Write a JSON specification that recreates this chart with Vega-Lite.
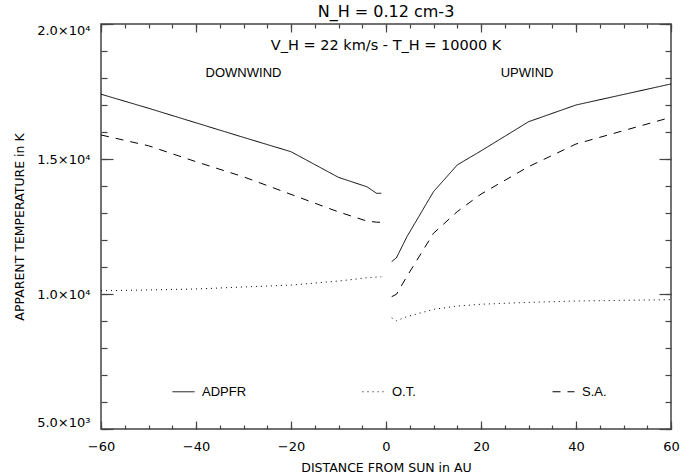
{
  "$schema": "https://vega.github.io/schema/vega-lite/v6.json",
  "width": 570,
  "height": 405,
  "autosize": {"type": "none"},
  "padding": {"left": 101, "top": 24, "right": 25, "bottom": 47},
  "background": "white",
  "title": {"text": "N_H = 0.12 cm-3", "fontSize": 16, "fontWeight": "normal", "font": "DejaVu Sans", "offset": 3, "color": "black"},
  "config": {
    "view": {"stroke": "#444", "strokeWidth": 1.5},
    "axis": {"grid": false, "domain": false, "labelFont": "DejaVu Sans", "titleFont": "DejaVu Sans", "labelFontSize": 13, "titleFontSize": 12.5, "titleFontWeight": "normal", "labelColor": "black", "titleColor": "black", "tickColor": "#444", "tickWidth": 1.2},
    "legend": {"labelFont": "Liberation Sans", "labelFontSize": 13, "labelColor": "black"},
    "text": {"font": "Liberation Sans", "fontSize": 13, "color": "black"}
  },
  "datasets": {
    "curves": [
      {"s": "ADPFR", "b": "down", "x": -60, "T": 17400},
      {"s": "ADPFR", "b": "down", "x": -50, "T": 16880},
      {"s": "ADPFR", "b": "down", "x": -40, "T": 16340},
      {"s": "ADPFR", "b": "down", "x": -30, "T": 15800},
      {"s": "ADPFR", "b": "down", "x": -20, "T": 15270},
      {"s": "ADPFR", "b": "down", "x": -10, "T": 14320},
      {"s": "ADPFR", "b": "down", "x": -4, "T": 13970},
      {"s": "ADPFR", "b": "down", "x": -2, "T": 13730},
      {"s": "ADPFR", "b": "down", "x": -1, "T": 13730},
      {"s": "ADPFR", "b": "up", "x": 1.2, "T": 11200},
      {"s": "ADPFR", "b": "up", "x": 2.2, "T": 11340},
      {"s": "ADPFR", "b": "up", "x": 4.4, "T": 12120},
      {"s": "ADPFR", "b": "up", "x": 10, "T": 13790},
      {"s": "ADPFR", "b": "up", "x": 15, "T": 14780},
      {"s": "ADPFR", "b": "up", "x": 20, "T": 15300},
      {"s": "ADPFR", "b": "up", "x": 30, "T": 16380},
      {"s": "ADPFR", "b": "up", "x": 40, "T": 17000},
      {"s": "ADPFR", "b": "up", "x": 60, "T": 17780},
      {"s": "O.T.", "b": "down", "x": -60, "T": 10120},
      {"s": "O.T.", "b": "down", "x": -50, "T": 10150},
      {"s": "O.T.", "b": "down", "x": -40, "T": 10185},
      {"s": "O.T.", "b": "down", "x": -30, "T": 10260},
      {"s": "O.T.", "b": "down", "x": -20, "T": 10330},
      {"s": "O.T.", "b": "down", "x": -10, "T": 10480},
      {"s": "O.T.", "b": "down", "x": -4, "T": 10600},
      {"s": "O.T.", "b": "down", "x": -1, "T": 10640},
      {"s": "O.T.", "b": "up", "x": 1.2, "T": 9120},
      {"s": "O.T.", "b": "up", "x": 2.2, "T": 9010},
      {"s": "O.T.", "b": "up", "x": 4.4, "T": 9160},
      {"s": "O.T.", "b": "up", "x": 10, "T": 9430},
      {"s": "O.T.", "b": "up", "x": 15, "T": 9555},
      {"s": "O.T.", "b": "up", "x": 20, "T": 9620},
      {"s": "O.T.", "b": "up", "x": 30, "T": 9690},
      {"s": "O.T.", "b": "up", "x": 40, "T": 9740},
      {"s": "O.T.", "b": "up", "x": 60, "T": 9790},
      {"s": "S.A.", "b": "down", "x": -60, "T": 15890},
      {"s": "S.A.", "b": "down", "x": -50, "T": 15490},
      {"s": "S.A.", "b": "down", "x": -40, "T": 14900},
      {"s": "S.A.", "b": "down", "x": -30, "T": 14340},
      {"s": "S.A.", "b": "down", "x": -20, "T": 13690},
      {"s": "S.A.", "b": "down", "x": -10, "T": 13040},
      {"s": "S.A.", "b": "down", "x": -4, "T": 12700},
      {"s": "S.A.", "b": "down", "x": -2, "T": 12660},
      {"s": "S.A.", "b": "down", "x": -1, "T": 12655},
      {"s": "S.A.", "b": "up", "x": 1.2, "T": 9900},
      {"s": "S.A.", "b": "up", "x": 2.2, "T": 9990},
      {"s": "S.A.", "b": "up", "x": 4.4, "T": 10650},
      {"s": "S.A.", "b": "up", "x": 10, "T": 12250},
      {"s": "S.A.", "b": "up", "x": 15, "T": 13050},
      {"s": "S.A.", "b": "up", "x": 20, "T": 13700},
      {"s": "S.A.", "b": "up", "x": 30, "T": 14715},
      {"s": "S.A.", "b": "up", "x": 40, "T": 15555},
      {"s": "S.A.", "b": "up", "x": 60, "T": 16545}
    ]
  },
  "data": {"name": "curves"},
  "resolve": {"axis": {"x": "independent", "y": "independent"}},
  "layer": [
    {
      "mark": {"type": "line", "color": "black", "strokeWidth": 1},
      "encoding": {
        "x": {"field": "x", "type": "quantitative", "scale": {"domain": [-60, 60], "nice": false, "zero": false},
          "axis": {"orient": "bottom", "title": "DISTANCE FROM SUN in AU", "values": [-60, -40, -20, 0, 20, 40, 60], "ticks": false, "labelPadding": 11, "labelFlush": false, "titlePadding": 8}},
        "y": {"field": "T", "type": "quantitative", "scale": {"domain": [5000, 20000], "nice": false, "zero": false},
          "axis": {"orient": "left", "title": "APPARENT TEMPERATURE in K", "values": [5000, 10000, 15000, 20000], "ticks": false, "labelPadding": 11, "labelFlush": true,
            "labelExpr": "datum.value == 5000 ? '5.0×10³' : datum.value == 10000 ? '1.0×10⁴' : datum.value == 15000 ? '1.5×10⁴' : '2.0×10⁴'",
            "titleX": -75}},
        "strokeDash": {"field": "s", "type": "nominal",
          "scale": {"domain": ["ADPFR", "O.T.", "S.A."], "range": [[1, 0], [1, 4], [8, 7]]},
          "legend": {"title": null, "orient": "none", "direction": "horizontal", "legendX": 71, "legendY": 356, "symbolType": "stroke", "symbolSize": 484, "symbolStrokeWidth": 1, "symbolStrokeColor": "black", "labelOffset": 7, "gridAlign": "all", "columnPadding": 113}},
        "detail": {"field": "b"}
      }
    },
    {
      "mark": {"type": "point", "opacity": 0},
      "encoding": {
        "x": {"field": "x", "type": "quantitative", "axis": {"orient": "bottom", "title": null, "labels": false, "values": [-60,-55,-50,-45,-40,-35,-30,-25,-20,-15,-10,-5,0,5,10,15,20,25,30,35,40,45,50,55,60], "tickSize": -4}},
        "y": {"field": "T", "type": "quantitative", "axis": {"orient": "left", "title": null, "labels": false, "values": [5000,6000,7000,8000,9000,10000,11000,12000,13000,14000,15000,16000,17000,18000,19000,20000], "tickSize": -6}}
      }
    },
    {
      "mark": {"type": "point", "opacity": 0},
      "encoding": {
        "x": {"field": "x", "type": "quantitative", "axis": {"orient": "bottom", "title": null, "labels": false, "values": [-60, -40, -20, 0, 20, 40, 60], "tickSize": -8}},
        "y": {"field": "T", "type": "quantitative", "axis": {"orient": "left", "title": null, "labels": false, "values": [5000, 10000, 15000, 20000], "tickSize": -12}}
      }
    },
    {
      "mark": {"type": "point", "opacity": 0},
      "encoding": {
        "x": {"field": "x", "type": "quantitative", "axis": {"orient": "top", "title": null, "labels": false, "values": [-60,-55,-50,-45,-40,-35,-30,-25,-20,-15,-10,-5,0,5,10,15,20,25,30,35,40,45,50,55,60], "tickSize": -4}},
        "y": {"field": "T", "type": "quantitative", "axis": {"orient": "right", "title": null, "labels": false, "values": [5000,6000,7000,8000,9000,10000,11000,12000,13000,14000,15000,16000,17000,18000,19000,20000], "tickSize": -6}}
      }
    },
    {
      "mark": {"type": "point", "opacity": 0},
      "encoding": {
        "x": {"field": "x", "type": "quantitative", "axis": {"orient": "top", "title": null, "labels": false, "values": [-60, -40, -20, 0, 20, 40, 60], "tickSize": -8}},
        "y": {"field": "T", "type": "quantitative", "axis": {"orient": "right", "title": null, "labels": false, "values": [5000, 10000, 15000, 20000], "tickSize": -12}}
      }
    },
    {
      "data": {"values": [{}]},
      "mark": {"type": "text", "text": "V_H = 22 km/s - T_H = 10000 K", "align": "center", "baseline": "middle", "font": "DejaVu Sans", "fontSize": 14.5},
      "encoding": {"x": {"datum": 0, "type": "quantitative", "axis": null}, "y": {"datum": 19190, "type": "quantitative", "axis": null}}
    },
    {
      "data": {"values": [{}]},
      "mark": {"type": "text", "text": "DOWNWIND", "align": "center", "baseline": "middle"},
      "encoding": {"x": {"datum": -30, "type": "quantitative", "axis": null}, "y": {"datum": 18190, "type": "quantitative", "axis": null}}
    },
    {
      "data": {"values": [{}]},
      "mark": {"type": "text", "text": "UPWIND", "align": "center", "baseline": "middle"},
      "encoding": {"x": {"datum": 29.7, "type": "quantitative", "axis": null}, "y": {"datum": 18190, "type": "quantitative", "axis": null}}
    }
  ]
}
